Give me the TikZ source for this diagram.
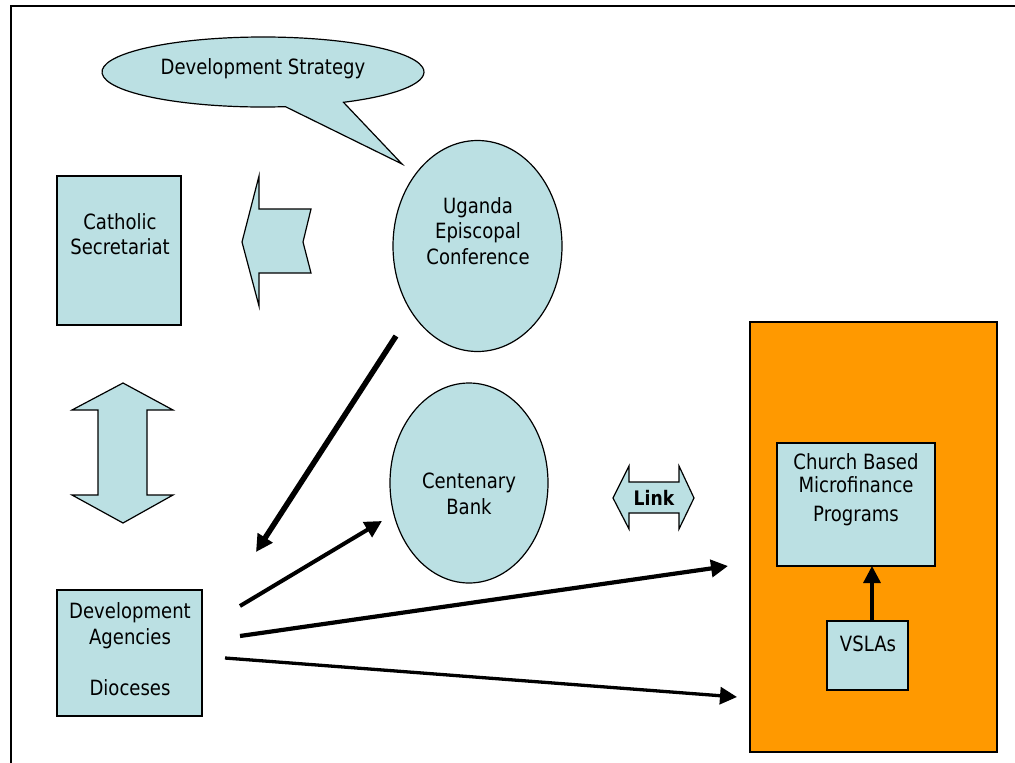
\documentclass[tikz,border=0pt]{standalone}
\usepackage{fontspec}
\setmainfont{DejaVu Sans}[FakeStretch=0.86]
\usetikzlibrary{shapes.geometric,arrows.meta}
\definecolor{paleteal}{RGB}{187,224,227}
\definecolor{boxorange}{RGB}{255,153,0}
\begin{document}
\begin{tikzpicture}[x=1pt,y=-1pt,
  outline/.style={draw=black,line width=1.2pt,line join=miter},
  bluefill/.style={outline,fill=paleteal},
  boxnode/.style={bluefill,rectangle,inner sep=0pt},
  ovalnode/.style={bluefill,ellipse,inner sep=0pt},
  lbl/.style={align=center,inner sep=0pt,font=\fontsize{21}{25.5}\selectfont},
  flowarrow/.style={line width=#1,line cap=butt,-{Triangle[length=17pt,width=17pt]}}
]
\useasboundingbox (0,0) rectangle (1015,763);

% page frame
\draw[line width=2.4pt] (10,6) -- (1015,6);
\draw[line width=1.3pt] (11,6) -- (11,763);

% speech bubble
\draw[bluefill] (263,72) ++(82:161 and 35)
  arc[start angle=82,end angle=420,x radius=161,y radius=35]
  -- (402,164) -- cycle;
\node[lbl] (strategy) at (263,69) {Development Strategy};

% Catholic Secretariat
\node[boxnode,minimum width=124pt,minimum height=149pt] (cs) at (119,250.5) {};
\node[lbl] (cstext) at (120,234) {Catholic\\Secretariat};

% notched block arrow pointing left
\draw[bluefill] (242,242) -- (259,176) -- (259,209) -- (311,209) -- (303,242)
  -- (311,273) -- (259,273) -- (259,306) -- cycle;

% Uganda Episcopal Conference
\node[ovalnode,minimum width=169pt,minimum height=211pt] (uec) at (477.5,246) {};
\node[lbl] (uectext) at (478,231) {Uganda\\Episcopal\\Conference};

% vertical double block arrow
\draw[bluefill] (123,383) -- (173,410) -- (147,410) -- (147,495) -- (173,495)
  -- (123,523) -- (72,495) -- (98,495) -- (98,410) -- (72,410) -- cycle;

% Centenary Bank
\node[ovalnode,minimum width=158pt,minimum height=200pt] (cb) at (469,483) {};
\node[lbl] (cbtext) at (469,494) {Centenary\\Bank};

% Link double arrow
\draw[bluefill] (613,498) -- (629,466) -- (629,482) -- (679,482) -- (679,466)
  -- (694,498) -- (679,529) -- (679,513) -- (629,513) -- (629,529) -- cycle;
\node[lbl,font=\fontsize{20}{24}\selectfont\bfseries] (link) at (654,498) {Link};

% Development Agencies / Dioceses
\node[boxnode,minimum width=145pt,minimum height=126pt] (dev) at (129.5,653) {};
\node[lbl] (devtext) at (130,649) {Development\\Agencies\\[25.5pt]Dioceses};

% orange programme panel
\node[outline,fill=boxorange,rectangle,inner sep=0pt,minimum width=247pt,minimum height=430pt] (panel) at (873.5,537) {};
\node[boxnode,minimum width=158pt,minimum height=123pt] (cbmp) at (856,504.5) {};
\node[lbl,font=\fontsize{21}{23}\selectfont] (cbmptext) at (856,490) {Church Based\\Microfinance\\[6pt]Programs};
\node[boxnode,minimum width=81pt,minimum height=69pt] (vslas) at (867.5,655.5) {};
\node[lbl] (vslastext) at (868,644) {VSLAs};

% connector end points
\coordinate (uecfoot) at (396,336);
\coordinate (devtop) at (256,552);
\coordinate (devA) at (240,606);
\coordinate (cbfoot) at (382,521);
\coordinate (devB) at (240,636);
\coordinate (panelA) at (728,566);
\coordinate (devC) at (225,658);
\coordinate (panelB) at (737,697);
\coordinate (vslastop) at (872,622);
\coordinate (cbmpfoot) at (872,566);

% connectors
\draw[flowarrow=5.5pt] (uecfoot) -- (devtop);
\draw[flowarrow=4pt] (devA) -- (cbfoot);
\draw[flowarrow=4.2pt] (devB) -- (panelA);
\draw[flowarrow=3.3pt] (devC) -- (panelB);
\draw[flowarrow=3.3pt] (vslastop) -- (cbmpfoot);
\end{tikzpicture}
\end{document}
